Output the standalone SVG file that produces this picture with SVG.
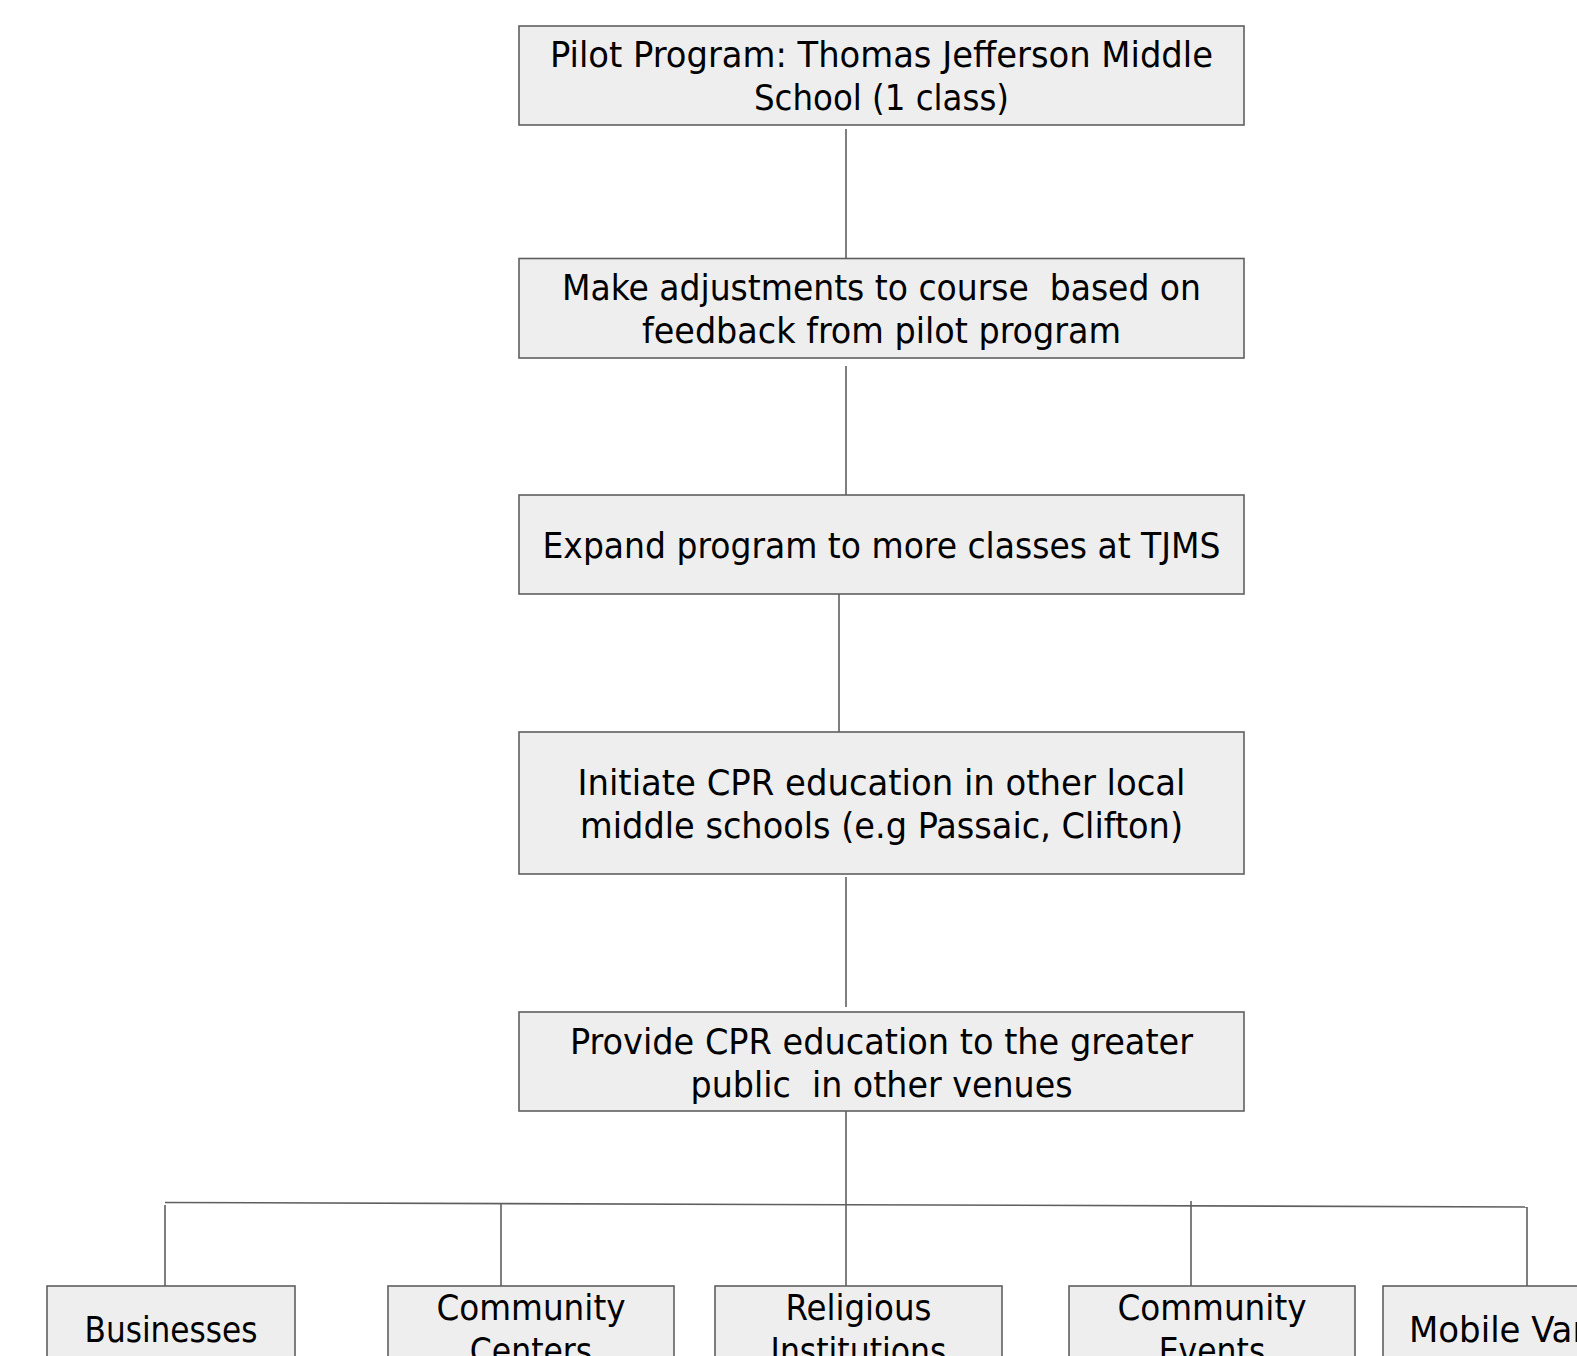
<svg xmlns="http://www.w3.org/2000/svg" width="1577" height="1356" viewBox="0 0 1577 1356">
<style>
.box{fill:#eeeeee;stroke:#5f5f5f;stroke-width:1.6}
.t{font-family:"DejaVu Sans Condensed","DejaVu Sans",sans-serif;font-stretch:condensed;font-size:35px;fill:#000;text-anchor:middle;white-space:pre}
.c{stroke:#5f5f5f;stroke-width:1.6;fill:none}
</style>
<rect width="1577" height="1356" fill="#ffffff"/>
<g id="connectors">
<line class="c" x1="846" y1="129" x2="846" y2="258"/>
<line class="c" x1="846" y1="366" x2="846" y2="495"/>
<line class="c" x1="839" y1="594" x2="839" y2="732"/>
<line class="c" x1="846" y1="877" x2="846" y2="1007"/>
<line class="c" x1="846" y1="1111" x2="846" y2="1286"/>
<line class="c" x1="165" y1="1202.5" x2="1527" y2="1207"/>
<line class="c" x1="165" y1="1205" x2="165" y2="1286"/>
<line class="c" x1="501" y1="1203.5" x2="501" y2="1286"/>
<line class="c" x1="1191" y1="1201" x2="1191" y2="1286"/>
<line class="c" x1="1527" y1="1207" x2="1527" y2="1286"/>
</g>
<g id="n1">
<rect class="box" x="519" y="26" width="725" height="99"/>
<text class="t" x="881.5" y="67" textLength="663" lengthAdjust="spacingAndGlyphs">Pilot Program: Thomas Jefferson Middle</text>
<text class="t" x="881.5" y="110" textLength="255" lengthAdjust="spacingAndGlyphs">School (1 class)</text>
</g>
<g id="n2">
<rect class="box" x="519" y="258.5" width="725" height="99.5"/>
<text class="t" x="881.5" y="300" textLength="639" lengthAdjust="spacingAndGlyphs">Make adjustments to course  based on</text>
<text class="t" x="881.5" y="343" textLength="479" lengthAdjust="spacingAndGlyphs">feedback from pilot program</text>
</g>
<g id="n3">
<rect class="box" x="519" y="495" width="725" height="99"/>
<text class="t" x="881.5" y="558" textLength="678" lengthAdjust="spacingAndGlyphs">Expand program to more classes at TJMS</text>
</g>
<g id="n4">
<rect class="box" x="519" y="732" width="725" height="142"/>
<text class="t" x="881.5" y="795" textLength="608" lengthAdjust="spacingAndGlyphs">Initiate CPR education in other local</text>
<text class="t" x="881.5" y="838" textLength="603" lengthAdjust="spacingAndGlyphs">middle schools (e.g Passaic, Clifton)</text>
</g>
<g id="n5">
<rect class="box" x="519" y="1012" width="725" height="99"/>
<text class="t" x="881.5" y="1054" textLength="623" lengthAdjust="spacingAndGlyphs">Provide CPR education to the greater</text>
<text class="t" x="881.5" y="1097" textLength="382" lengthAdjust="spacingAndGlyphs">public  in other venues</text>
</g>
<g id="n6">
<rect class="box" x="47" y="1286" width="248" height="100"/>
<text class="t" x="171" y="1342" textLength="173" lengthAdjust="spacingAndGlyphs">Businesses</text>
</g>
<g id="n7">
<rect class="box" x="388" y="1286" width="286" height="100"/>
<text class="t" x="531" y="1320" textLength="189" lengthAdjust="spacingAndGlyphs">Community</text>
<text class="t" x="531" y="1363">Centers</text>
</g>
<g id="n8">
<rect class="box" x="715" y="1286" width="287" height="100"/>
<text class="t" x="858.5" y="1320" textLength="146" lengthAdjust="spacingAndGlyphs">Religious</text>
<text class="t" x="858.5" y="1363">Institutions</text>
</g>
<g id="n9">
<rect class="box" x="1069" y="1286" width="286" height="100"/>
<text class="t" x="1212" y="1320" textLength="189" lengthAdjust="spacingAndGlyphs">Community</text>
<text class="t" x="1212" y="1363">Events</text>
</g>
<g id="n10">
<rect class="box" x="1383" y="1286" width="286" height="100"/>
<text class="t" x="1409" y="1342" style="text-anchor:start" textLength="185" lengthAdjust="spacingAndGlyphs">Mobile Van</text>
</g>
</svg>
